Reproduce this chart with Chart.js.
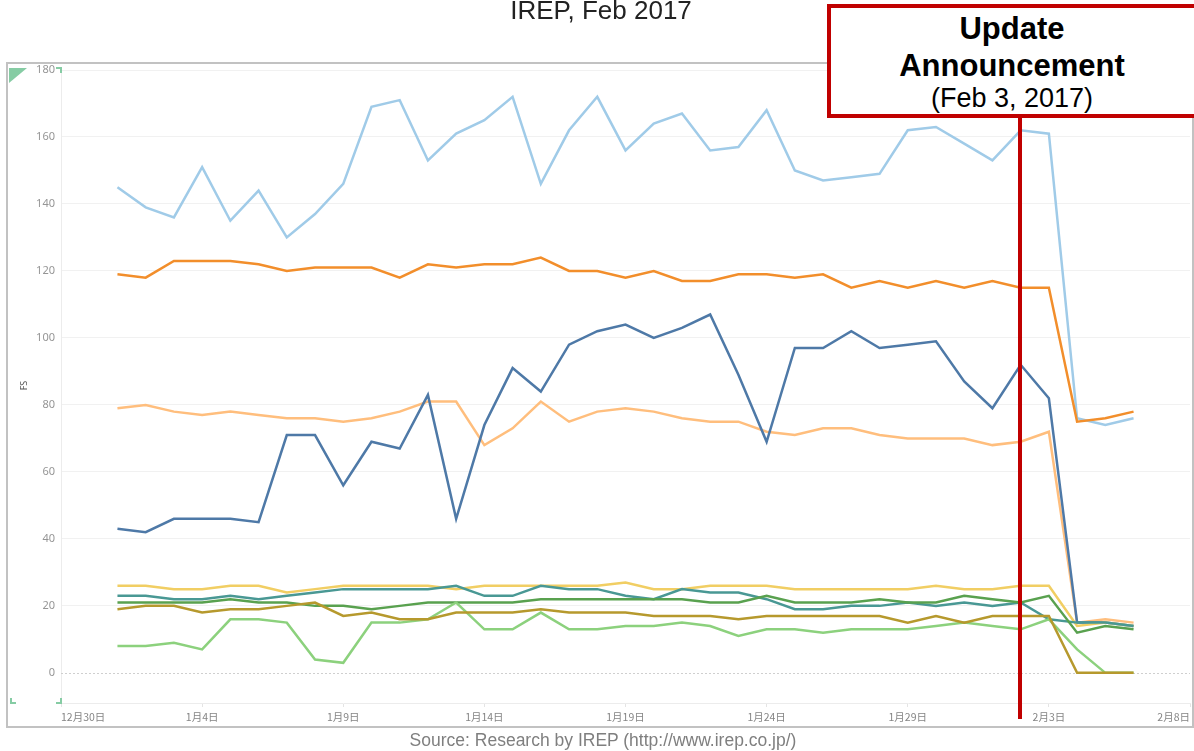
<!DOCTYPE html>
<html>
<head>
<meta charset="utf-8">
<script src="https://cdn.jsdelivr.net/npm/chart.js@4"></script>
<style>
  body { margin: 0; background: #fff; }
  #wrap { position: relative; width: 1194px; height: 751px; overflow: hidden; font-family: "Liberation Sans", Arial, sans-serif; }
  #frame { position: absolute; left: 6px; top: 62px; width: 1188px; height: 666px; border: 2px solid #c2c2c2; box-sizing: border-box; }
  #chart { position: absolute; left: 0; top: 0; }
  .title { position: absolute; left: 4px; top: -3px; width: 1194px; text-align: center; font-size: 26px; line-height: 26px; color: #222; }
  .box { position: absolute; left: 827px; top: 4px; width: 390px; height: 114px; border: 4px solid #c00000; box-sizing: border-box; background: #fff; }
  .boxText { position: absolute; left: 827px; width: 370px; text-align: center; color: #000; white-space: nowrap; }
  .redLine { position: absolute; left: 1018px; top: 116px; width: 4px; height: 603px; background: #c00000; }
  .source { position: absolute; left: 6px; top: 732px; width: 1194px; text-align: center; font-size: 17.5px; line-height: 17px; color: #7f7f7f; }
  .tri { position: absolute; left: 9px; top: 68px; width: 18px; height: 15px; background: #86cca4; clip-path: polygon(0 0, 100% 0, 0 100%); }
  .mark { position: absolute; width: 4px; height: 4px; border-color: #86cca4; border-style: solid; border-width: 0; }
</style>
</head>
<body>
<div id="wrap">
  <div id="frame"></div>
  <canvas id="chart" width="1194" height="751"></canvas>
  <div class="tri"></div>
  <div class="mark" style="left:56px;top:67px;border-top-width:2px;border-right-width:2px;"></div>
  <div class="mark" style="left:10px;top:698px;border-left-width:2px;border-bottom-width:2px;"></div>
  <div class="mark" style="left:56px;top:698px;border-right-width:2px;border-bottom-width:2px;"></div>
  <div class="title">IREP, Feb 2017</div>
  <div class="redLine"></div>
  <div class="box"></div>
  <div class="boxText" style="top:13px;font-size:31px;line-height:31px;font-weight:bold;">Update</div>
  <div class="boxText" style="top:50px;font-size:31px;line-height:31px;font-weight:bold;">Announcement</div>
  <div class="boxText" style="top:85px;font-size:27px;line-height:27px;">(Feb 3, 2017)</div>
  <div class="source">Source: Research by IREP (http://www.irep.co.jp/)</div>
</div>
<script>
// x = days since Jan 1 (Jan 1 .. Feb 6)
const xTickDays = [-2, 3, 8, 13, 18, 23, 28, 33, 38];
const xTickLabels = ['12月30日', '1月4日', '1月9日', '1月14日', '1月19日', '1月24日', '1月29日', '2月3日', '2月8日'];
const yTicks = [0, 20, 40, 60, 80, 100, 120, 140, 160, 180];

const lightBlue = [145, 139, 136, 151, 135, 144, 130, 137, 146, 169, 171, 153, 161, 165, 172, 146,
  162, 172, 156, 164, 167, 156, 157, 168, 150, 147, 148, 149, 162, 163, 158, 153, 162,
  161, 76, 74, 76];
const orange = [119, 118, 123, 123, 123, 122, 120, 121, 121, 121, 118, 122, 121, 122, 122, 124,
  120, 120, 118, 120, 117, 117, 119, 119, 118, 119, 115, 117, 115, 117, 115, 117, 115,
  115, 75, 76, 78];
const darkBlue = [43, 42, 46, 46, 46, 45, 71, 71, 56, 69, 67, 83, 46, 74, 91, 84,
  98, 102, 104, 100, 103, 107, 89, 69, 97, 97, 102, 97, 98, 99, 87, 79, 92,
  82, 15, 15, 14];
const lightOrange = [79, 80, 78, 77, 78, 77, 76, 76, 75, 76, 78, 81, 81, 68, 73, 81,
  75, 78, 79, 78, 76, 75, 75, 72, 71, 73, 73, 71, 70, 70, 70, 68, 69,
  72, 15, 16, 15];
const yellow = [26, 26, 25, 25, 26, 26, 24, 25, 26, 26, 26, 26, 25,
  26, 26, 26, 26, 26, 27, 25, 25, 26, 26, 26,
  25, 25, 25, 25, 25, 26, 25, 25, 26, 26, 14, 15, 14];
const teal = [23, 23, 22, 22, 23, 22, 23, 24, 25, 25, 25, 25, 26,
  23, 23, 26, 25, 25, 23, 22, 25, 24, 24, 22,
  19, 19, 20, 20, 21, 20, 21, 20, 21, 16, 15, 15, 14];
const darkGreen = [21, 21, 21, 21, 22, 21, 21, 20, 20, 19, 20, 21, 21,
  21, 21, 22, 22, 22, 22, 22, 22, 21, 21, 23,
  21, 21, 21, 22, 21, 21, 23, 22, 21, 23, 12, 14, 13];
const olive = [19, 20, 20, 18, 19, 19, 20, 21, 17, 18, 16, 16, 18,
  18, 18, 19, 18, 18, 18, 17, 17, 17, 16, 17,
  17, 17, 17, 17, 15, 17, 15, 17, 17, 17, 0, 0, 0];
const lightGreen = [8, 8, 9, 7, 16, 16, 15, 4, 3, 15, 15, 16, 21,
  13, 13, 18, 13, 13, 14, 14, 15, 14, 11, 13,
  13, 12, 13, 13, 13, 14, 15, 14, 13, 16, 7, 0, 0];

const toPoints = (vals) => vals.map((v, i) => ({ x: i, y: v }));

const line = (vals, color) => ({
  data: toPoints(vals),
  borderColor: color,
  backgroundColor: color,
  borderWidth: 2.5,
  pointRadius: 0,
  tension: 0,
});

// dotted zero line like the original
const zeroLine = {
  id: 'zeroLine',
  beforeDatasetsDraw(chart) {
    const { ctx, chartArea, scales: { y } } = chart;
    const py = Math.round(y.getPixelForValue(0)) + 0.5;
    ctx.save();
    ctx.strokeStyle = '#cfcfcf';
    ctx.lineWidth = 1;
    ctx.setLineDash([2, 2]);
    ctx.beginPath();
    ctx.moveTo(chartArea.left, py);
    ctx.lineTo(chartArea.right, py);
    ctx.stroke();
    ctx.restore();
  }
};

new Chart(document.getElementById('chart'), {
  type: 'line',
  data: {
    datasets: [
      line(olive, '#b6992d'),
      line(lightGreen, '#8cd17d'),
      line(darkGreen, '#59a14f'),
      line(teal, '#499894'),
      line(yellow, '#f1ce63'),
      line(darkBlue, '#4e79a7'),
      line(lightOrange, '#ffbe7d'),
      line(orange, '#f28e2b'),
      line(lightBlue, '#a0cbe8'),
    ],
  },
  options: {
    responsive: false,
    animation: false,
    layout: { padding: { left: 0, top: 68, right: 3, bottom: 24 } },
    plugins: { legend: { display: false }, tooltip: { enabled: false } },
    scales: {
      x: {
        type: 'linear',
        min: -2,
        max: 38,
        afterBuildTicks: (s) => { s.ticks = xTickDays.map((v) => ({ value: v })); },
        afterFit: (s) => { s.height = 24; },
        grid: { drawOnChartArea: false, drawTicks: true, tickLength: 4, color: '#e4e4e4' },
        border: { color: '#ececec' },
        ticks: {
          callback: (v, i) => xTickLabels[i],
          align: 'inner',
          autoSkip: false,
          maxRotation: 0,
          padding: 4,
          color: '#858585',
          font: { family: 'Noto Sans CJK JP', size: 10.5 },
        },
      },
      y: {
        min: -9,
        max: 180.6,
        afterBuildTicks: (s) => { s.ticks = yTicks.map((v) => ({ value: v })); },
        afterFit: (s) => { s.width = 61; },
        grid: {
          drawTicks: false,
          color: (c) => (c.tick && c.tick.value === 0 ? 'rgba(0,0,0,0)' : '#f1f1f1'),
        },
        border: { color: '#ececec' },
        ticks: {
          padding: 6,
          color: '#959595',
          font: { family: 'Noto Sans', size: 11 },
        },
        title: {
          display: true,
          text: 'FS',
          color: '#555',
          font: { family: 'Noto Sans', size: 9 },
          padding: { top: 19, bottom: 0 },
        },
      },
    },
  },
  plugins: [zeroLine],
});
</script>
</body>
</html>
